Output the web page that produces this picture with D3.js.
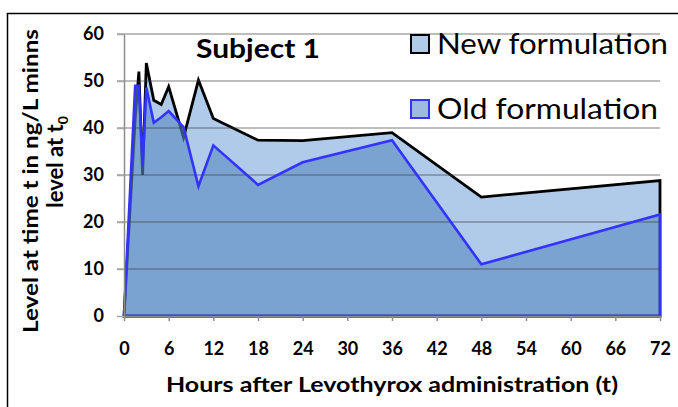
<!DOCTYPE html>
<html><head><meta charset="utf-8">
<script src="https://cdn.jsdelivr.net/npm/d3@7"></script>
<style>body{margin:0;background:#fff;}svg{display:block;}</style>
</head><body>
<svg id="c" width="678" height="407"></svg>
<script>
const hours   = [0, 1.5, 2, 2.5, 3, 4, 5, 6, 8, 10, 12, 18, 24, 36, 48, 72];
const newForm = [0, 42, 52, 30, 53.8, 45.9, 45, 48.8, 38, 50.2, 42, 37.4, 37.3, 39, 25.3, 28.8];
const oldForm = [0, 49, 49, 32, 48.6, 41.1, 42.3, 43.6, 40.2, 27.6, 36.3, 27.9, 32.7, 37.4, 11, 21.6];
const xTicks = [0, 6, 12, 18, 24, 30, 36, 42, 48, 54, 60, 66, 72];
const yTicks = [0, 10, 20, 30, 40, 50, 60];
const seriesNames = ["New formulation", "Old formulation"];
const chartTitle = "Subject 1";
const xTitle = "Hours after Levothyrox  administration (t)";

const svg = d3.select("#c");
const font = "Lato, 'Open Sans', sans-serif";
const x = d3.scaleLinear().domain([0, 72]).range([124, 660]);
const y = d3.scaleLinear().domain([0, 60]).range([316, 34]);

// outer frame
svg.append("rect").attr("x", 7.5).attr("y", 13.5).attr("width", 700).attr("height", 420)
  .attr("fill", "none").attr("stroke", "#000").attr("stroke-width", 1.5);

const newPts = hours.map((h, i) => [h, newForm[i]]);
const oldPts = hours.map((h, i) => [h, oldForm[i]]);
const area = d3.area().x(d => x(d[0])).y0(y(0)).y1(d => y(d[1]));

// new formulation
svg.append("path").attr("d", area(newPts)).attr("fill", "rgb(123,168,220)").attr("fill-opacity", 0.6);
svg.append("path").attr("d", area(newPts)).attr("fill", "none").attr("stroke", "#000")
  .attr("stroke-width", 2.8).attr("stroke-linejoin", "miter");
// old formulation fill
svg.append("path").attr("d", area(oldPts)).attr("fill", "rgb(88,136,194)").attr("fill-opacity", 0.6);

// gridlines
svg.append("g").selectAll("line").data(yTicks.filter(v => v > 0)).join("line")
  .attr("x1", 117).attr("x2", 660).attr("y1", d => y(d)).attr("y2", d => y(d))
  .attr("stroke", "rgba(60,60,60,0.45)").attr("stroke-width", 1.5);

// old stroke
svg.append("path").attr("d", area(oldPts)).attr("fill", "none").attr("stroke", "#3333ff")
  .attr("stroke-width", 2.6).attr("stroke-linejoin", "miter");

// axes
const xAxis = svg.append("g").attr("transform", `translate(0,${y(0)})`)
  .call(d3.axisBottom(x).tickValues(xTicks).tickSize(5).tickPadding(21).tickSizeOuter(0));
const yAxis = svg.append("g").attr("transform", `translate(${x(0)},0)`)
  .call(d3.axisLeft(y).tickValues(yTicks).tickSize(7).tickPadding(13).tickSizeOuter(0));
[xAxis, yAxis].forEach(g => {
  g.select(".domain").attr("stroke", "#8c8c8c").attr("stroke-width", 1.5);
  g.selectAll(".tick line").attr("stroke", "#8c8c8c").attr("stroke-width", 1.5);
  g.selectAll("text").attr("font-family", font).attr("font-weight", "bold")
    .attr("font-size", 18).attr("fill", "#000");
});
yAxis.selectAll(".tick line").attr("stroke", "#a6a6a6");

// title
svg.append("text").attr("x", 258).attr("y", 58).attr("text-anchor", "middle")
  .attr("font-family", font).attr("font-weight", "bold").attr("font-size", 27)
  .attr("textLength", 124).attr("lengthAdjust", "spacingAndGlyphs").text(chartTitle);

// x title
svg.append("text").attr("x", 392).attr("y", 392).attr("text-anchor", "middle")
  .attr("font-family", font).attr("font-weight", "bold").attr("font-size", 21)
  .attr("textLength", 452).attr("lengthAdjust", "spacingAndGlyphs").text(xTitle);

// y title
const yt = svg.append("g").attr("transform", "translate(38,181) rotate(-90)");
yt.append("text").attr("x", 0).attr("y", 0).attr("text-anchor", "middle")
  .attr("font-family", font).attr("font-weight", "bold").attr("font-size", 21)
  .attr("textLength", 304).attr("lengthAdjust", "spacingAndGlyphs")
  .text("Level at time t in ng/L minns");
const t2 = yt.append("text").attr("x", 19).attr("y", 25).attr("text-anchor", "middle")
  .attr("font-family", font).attr("font-weight", "bold").attr("font-size", 22);
t2.append("tspan").text("level at t");
t2.append("tspan").attr("font-size", 14).attr("dy", 5).text("0");

// legend
const legend = [
  {name: seriesNames[0], fill: "rgb(176,203,234)", stroke: "#000", ty: 44, w: 231},
  {name: seriesNames[1], fill: "rgb(158,186,222)", stroke: "#3333ff", ty: 109, w: 221}
];
legend.forEach(l => {
  svg.append("rect").attr("x", 411).attr("y", l.ty - 9).attr("width", 18).attr("height", 18)
    .attr("fill", l.fill).attr("stroke", l.stroke).attr("stroke-width", 2);
  svg.append("text").attr("x", 437).attr("y", l.ty + 10).attr("font-family", font)
    .attr("font-size", 28).attr("fill", "#000")
    .attr("textLength", l.w).attr("lengthAdjust", "spacingAndGlyphs").text(l.name);
});
</script>
</body></html>
